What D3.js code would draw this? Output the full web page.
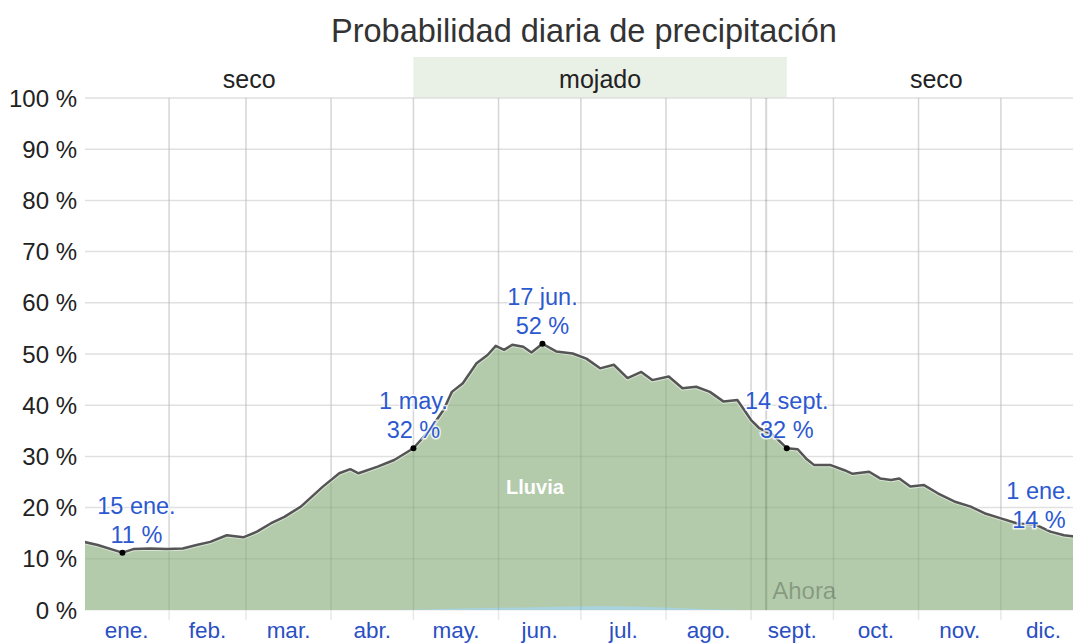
<!DOCTYPE html>
<html>
<head>
<meta charset="utf-8">
<script src="https://cdn.jsdelivr.net/npm/d3@7"></script>
<style>
  body { margin: 0; background: #fff; }
  svg { display: block; font-family: "Liberation Sans", Arial, sans-serif; }
</style>
</head>
<body>
<svg id="chart" width="1073" height="643"></svg>
<script>
// day of year (0 = 1 ene.) and daily probability of rain
var rainDays = [0, 5, 11, 14, 18, 24, 30, 36, 41, 46, 52, 58, 63, 68, 73, 79, 87, 93, 97, 100, 107, 113,
  120, 126, 131, 134, 138, 143, 147, 150, 153, 156, 160, 163, 167, 172, 178, 183, 188, 193, 198, 203,
  207, 213, 218, 223, 228, 233, 238, 243, 246, 251, 256, 260, 263, 266, 272, 277, 280, 286, 290, 294,
  297, 301, 306, 311, 317, 323, 328, 334, 340, 347, 352, 357, 360, 365];
var rainPct = [13.3, 12.7, 11.7, 11.2, 11.9, 12.0, 11.9, 12.0, 12.7, 13.3, 14.6, 14.2, 15.3, 16.9, 18.2, 20.2, 24.1, 26.7, 27.5, 26.7, 28.0, 29.3,
  31.6, 35.2, 39.1, 42.6, 44.3, 48.2, 49.8, 51.6, 50.8, 51.8, 51.4, 50.3, 52.0, 50.5, 50.1, 49.1, 47.2, 47.9, 45.3, 46.5,
  44.9, 45.6, 43.3, 43.6, 42.6, 40.7, 41.0, 37.1, 35.5, 34.2, 31.6, 31.4, 29.6, 28.3, 28.3, 27.3, 26.6, 27.0, 25.7, 25.4,
  25.7, 24.1, 24.4, 22.8, 21.2, 20.2, 18.9, 17.9, 16.9, 16.6, 15.3, 14.6, 14.4, 14.0];

// small mixed band along the bottom in summer
var mixDays = [115, 130, 145, 160, 175, 190, 200, 212, 225, 240];
var mixPct = [0, 0.2, 0.4, 0.5, 0.7, 0.8, 0.7, 0.5, 0.2, 0];

var monthNames = ["ene.", "feb.", "mar.", "abr.", "may.", "jun.", "jul.", "ago.", "sept.", "oct.", "nov.", "dic."];
var monthStarts = [0, 31, 59, 90, 120, 151, 181, 212, 243, 273, 304, 334, 365];
var yTicks = [0, 10, 20, 30, 40, 50, 60, 70, 80, 90, 100];

var seasons = [
  { name: "seco", from: -2, to: 120 },
  { name: "mojado", from: 120, to: 256 },
  { name: "seco", from: 256, to: 365 }
];
var nowDay = 248.5;

var notes = [
  { day: 14, pct: 11.2, date: "15 ene.", label: "11 %", dx: 14 },
  { day: 120, pct: 31.6, date: "1 may.", label: "32 %", dx: 0 },
  { day: 167, pct: 52.0, date: "17 jun.", label: "52 %", dx: 0 },
  { day: 256, pct: 31.6, date: "14 sept.", label: "32 %", dx: 0 },
  { day: 365, pct: 14.0, date: "1 ene.", label: "14 %", dx: -47 }
];

var svg = d3.select("#chart");
var x = d3.scaleLinear().domain([0, 365]).range([84, 1086]);
var y = d3.scaleLinear().domain([0, 100]).range([610, 98]);

var rain = rainDays.map((d, i) => ({ day: d, v: rainPct[i] }));
var mix = mixDays.map((d, i) => ({ day: d, v: mixPct[i] }));

// title
svg.append("text")
  .attr("x", 584).attr("y", 42)
  .attr("text-anchor", "middle")
  .attr("font-size", 32.5).attr("fill", "#333")
  .text("Probabilidad diaria de precipitación");

// season band
svg.selectAll(".season")
  .data(seasons.filter(s => s.name == "mojado"))
  .join("rect")
  .attr("x", d => x(d.from)).attr("y", 57)
  .attr("width", d => x(d.to) - x(d.from)).attr("height", y(100) - 57)
  .attr("fill", "#e9f0e6");

svg.selectAll(".seasonlabel")
  .data(seasons)
  .join("text")
  .attr("x", d => (Math.max(x(d.from), 85) + x(d.to)) / 2)
  .attr("y", 88)
  .attr("text-anchor", "middle")
  .attr("font-size", 25).attr("fill", "#222")
  .text(d => d.name);

// light gridlines underneath
var grid = svg.append("g");
grid.selectAll(".h")
  .data(yTicks)
  .join("line")
  .attr("x1", 85).attr("x2", 1073)
  .attr("y1", d => y(d)).attr("y2", d => y(d))
  .attr("stroke", "#eeeeee").attr("stroke-width", 1.5);
grid.selectAll(".v")
  .data(monthStarts.slice(1, 12))
  .join("line")
  .attr("x1", d => x(d)).attr("x2", d => x(d))
  .attr("y1", y(100)).attr("y2", 620)
  .attr("stroke", "#e8e8e8").attr("stroke-width", 1.5);

// areas
var clip = svg.append("clipPath").attr("id", "plot")
  .append("rect").attr("x", 85).attr("y", 0).attr("width", 1000).attr("height", y(0));

var area = d3.area().x(d => x(d.day)).y0(y(0)).y1(d => y(d.v));
svg.append("path")
  .datum(rain)
  .attr("clip-path", "url(#plot)")
  .attr("d", area)
  .attr("fill", "#b3cbab");

svg.append("path")
  .datum(mix)
  .attr("clip-path", "url(#plot)")
  .attr("d", area)
  .attr("fill", "#a8d2dc");

// gridlines showing through the fill
var grid2 = svg.append("g").attr("clip-path", "url(#plot)");
grid2.selectAll(".h")
  .data(yTicks.slice(1))
  .join("line")
  .attr("x1", 85).attr("x2", 1073)
  .attr("y1", d => y(d)).attr("y2", d => y(d))
  .attr("stroke", "rgba(0,0,0,0.06)").attr("stroke-width", 1.5);
grid2.selectAll(".v")
  .data(monthStarts.slice(1, 12))
  .join("line")
  .attr("x1", d => x(d)).attr("x2", d => x(d))
  .attr("y1", y(100)).attr("y2", y(0))
  .attr("stroke", "rgba(0,0,0,0.08)").attr("stroke-width", 1.5);

// now line
svg.append("line")
  .attr("x1", x(nowDay)).attr("x2", x(nowDay))
  .attr("y1", y(100)).attr("y2", y(0))
  .attr("stroke", "rgba(0,0,0,0.16)").attr("stroke-width", 2);
svg.append("text")
  .attr("x", x(nowDay) + 6).attr("y", 599)
  .attr("font-size", 24).attr("fill", "rgba(0,0,0,0.25)")
  .text("Ahora");

// line
var line = d3.line().x(d => x(d.day)).y(d => y(d.v));
svg.append("path")
  .datum(rain)
  .attr("clip-path", "url(#plot)")
  .attr("d", line)
  .attr("fill", "none")
  .attr("stroke", "rgba(255,255,255,0.5)").attr("stroke-width", 4.5);
svg.append("path")
  .datum(rain)
  .attr("clip-path", "url(#plot)")
  .attr("d", line)
  .attr("fill", "none")
  .attr("stroke", "#555").attr("stroke-width", 2.5)
  .attr("stroke-linejoin", "round");

svg.append("text")
  .attr("x", 535).attr("y", 494)
  .attr("text-anchor", "middle")
  .attr("font-size", 20).attr("font-weight", "bold").attr("fill", "#fff")
  .text("Lluvia");

// y axis labels
svg.selectAll(".ylab")
  .data(yTicks)
  .join("text")
  .attr("x", 77).attr("y", d => y(d) + 8.5)
  .attr("text-anchor", "end")
  .attr("font-size", 24).attr("fill", "#222")
  .text(d => d + " %");

// month labels
svg.selectAll(".mlab")
  .data(monthNames)
  .join("text")
  .attr("x", (d, i) => x((monthStarts[i] + monthStarts[i + 1]) / 2))
  .attr("y", 637.5)
  .attr("text-anchor", "middle")
  .attr("font-size", 22.5).attr("fill", "#2a4fc2")
  .text(d => d);

// annotations
var ann = svg.append("g");
ann.selectAll("circle")
  .data(notes)
  .join("circle")
  .attr("cx", d => x(d.day)).attr("cy", d => y(d.pct))
  .attr("r", 3).attr("fill", "#000");

ann.selectAll(".d1")
  .data(notes)
  .join("text")
  .attr("x", d => x(d.day) + d.dx).attr("y", d => y(d.pct) - 39)
  .attr("text-anchor", "middle")
  .attr("font-size", 23.5).attr("fill", "#2c59cf")
  .attr("stroke", "rgba(255,255,255,0.75)").attr("stroke-width", 3)
  .attr("paint-order", "stroke")
  .text(d => d.date);

ann.selectAll(".d2")
  .data(notes)
  .join("text")
  .attr("x", d => x(d.day) + d.dx).attr("y", d => y(d.pct) - 10)
  .attr("text-anchor", "middle")
  .attr("font-size", 23.5).attr("fill", "#2c59cf")
  .attr("stroke", "rgba(255,255,255,0.75)").attr("stroke-width", 3)
  .attr("paint-order", "stroke")
  .text(d => d.label);
</script>
</body>
</html>
